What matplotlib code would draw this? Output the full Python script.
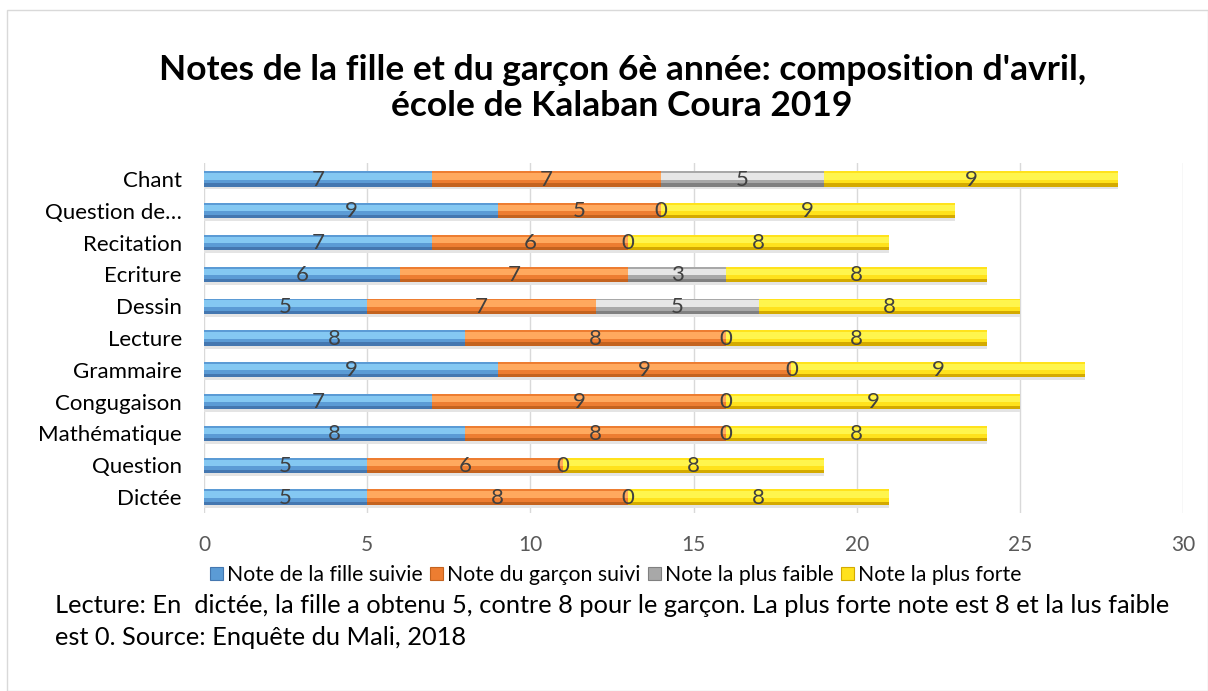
import numpy as np
import matplotlib
matplotlib.use("Agg")
import matplotlib.pyplot as plt
from matplotlib.patches import Rectangle, Patch

plt.rcParams['font.family'] = ['Lato', 'DejaVu Sans']

subjects = ["Chant", "Question de…", "Recitation", "Ecriture", "Dessin", "Lecture",
            "Grammaire", "Congugaison", "Mathématique", "Question", "Dictée"]
fille = [7, 9, 7, 6, 5, 8, 9, 7, 8, 5, 5]
garcon = [7, 5, 6, 7, 7, 8, 9, 9, 8, 6, 8]
faible = [5, 0, 0, 3, 5, 0, 0, 0, 0, 0, 0]
forte = [9, 9, 8, 8, 8, 8, 9, 9, 8, 8, 8]
series_names = ["Note de la fille suivie", "Note du garçon suivi",
                "Note la plus faible", "Note la plus forte"]

# (light, mid, dark) shades to fake the 3D bevel look
shades = [("#84c8f2", "#5b9bd5", "#4477b0"),
          ("#ffa95e", "#ed7d31", "#c4631f"),
          ("#e6e6e6", "#a8a8a8", "#808080"),
          ("#fff54d", "#ffe21c", "#d4aa00")]

fig = plt.figure(figsize=(12.08, 6.91), dpi=100)
ax = fig.add_axes([0.1689, 0.2576, 0.8104, 0.5065])

y = np.arange(len(subjects))[::-1]
h = 0.48
left = np.zeros(len(subjects))
handles = []
for vals, name, (lt, md, dk) in zip([fille, garcon, faible, forte], series_names, shades):
    vals = np.array(vals, dtype=float)
    ax.barh(y - 0.09, vals, left=left, height=h, color="#e4e4e4", zorder=1)
    ax.barh(y, vals, left=left, height=h, color=md, zorder=2)
    ax.barh(y + 0.08, vals, left=left, height=0.2, color=lt, zorder=3)
    ax.barh(y - 0.19, vals, left=left, height=0.1, color=dk, zorder=3)
    for yi, l, v in zip(y, left, vals):
        ax.text(l + v / 2, yi - 0.02, f"{int(v)}", ha="center", va="center",
                fontsize=16, color="#404040", zorder=5)
    handles.append(Patch(facecolor=md, edgecolor=dk, linewidth=0.8))
    left += vals

ax.set_xlim(0, 30)
ax.set_ylim(-0.5, 10.5)
ax.set_xticks(range(0, 31, 5))
ax.set_yticks(y)
ax.set_yticklabels(subjects)
ax.tick_params(axis="both", length=0, labelsize=16, colors="#000000")
ax.tick_params(axis="x", pad=16, labelsize=15, colors="#595959")
ax.tick_params(axis="y", pad=16)
ax.grid(axis="x", color="#d9d9d9", linewidth=1, zorder=0)
ax.set_axisbelow(True)
for s in ax.spines.values():
    s.set_visible(False)

fig.text(0.515, 0.872, "Notes de la fille et du garçon 6è année: composition d'avril,\n"
         "école de Kalaban Coura 2019", ha="center", va="center",
         fontsize=25.5, fontweight="bold", linespacing=1.15)

fig.legend(handles, series_names, loc="center", bbox_to_anchor=(0.510, 0.168),
           ncol=4, frameon=False, fontsize=15.3, handlelength=0.6, handleheight=0.6,
           handletextpad=0.2, columnspacing=0.35)

fig.text(0.0455, 0.124, "Lecture: En  dictée, la fille a obtenu 5, contre 8 pour le garçon. "
         "La plus forte note est 8 et la lus faible", ha="left", va="center", fontsize=18.3)
fig.text(0.0455, 0.078, "est 0. Source: Enquête du Mali, 2018", ha="left", va="center", fontsize=18.3)

fig.patches.append(Rectangle((0.006, 0.0), 0.994, 0.986, transform=fig.transFigure,
                             fill=False, edgecolor="#d9d9d9", linewidth=1))

fig.savefig("out.png", dpi=100)
